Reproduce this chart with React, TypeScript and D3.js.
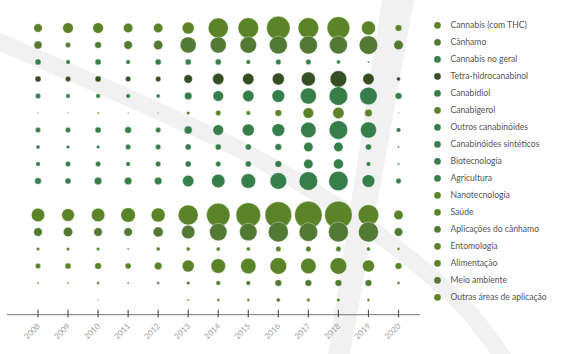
import React, { useEffect, useRef } from "react";
import * as d3 from "d3";

const years = ["2008", "2009", "2010", "2011", "2012", "2013", "2014", "2015", "2016", "2017", "2018", "2019", "2020"];

const categories = [
  "Cannabis (com THC)",
  "Cânhamo",
  "Cannabis no geral",
  "Tetra-hidrocanabinol",
  "Canabidiol",
  "Canabigerol",
  "Outros canabinóides",
  "Canabinóides sintéticos",
  "Biotecnologia",
  "Agricultura",
  "Nanotecnologia",
  "Saúde",
  "Aplicações do cânhamo",
  "Entomologia",
  "Alimentação",
  "Meio ambiente",
  "Outras áreas de aplicação",
];

// values per year, 2008 -> 2020
const cannabisThc = [18, 28, 28, 22, 22, 36, 100, 106, 137, 106, 128, 49, 11];
const canhamo = [16, 7, 11, 18, 22, 64, 64, 69, 81, 81, 81, 86, 22];
const cannabisGeral = [9, 5, 9, 5, 9, 9, 9, 5, 7, 7, 4, 1, 0];
const thc = [9, 7, 9, 7, 7, 18, 32, 32, 36, 49, 69, 32, 4];
const cbd = [7, 5, 5, 5, 4, 14, 28, 32, 40, 64, 86, 76, 11];
const cbg = [0.6, 0.6, 1, 0.6, 0.6, 3, 7, 5, 11, 28, 32, 14, 0.5];
const outrosCanab = [7, 7, 9, 11, 7, 16, 28, 36, 40, 59, 86, 64, 5];
const sinteticos = [4, 3, 3, 7, 7, 9, 9, 9, 11, 22, 22, 9, 1];
const biotecnologia = [5, 7, 7, 5, 7, 9, 7, 9, 11, 22, 25, 5, 1];
const agricultura = [11, 9, 14, 14, 14, 32, 45, 53, 69, 86, 94, 40, 7];
const nanotecnologia = [0, 0, 0, 0, 0, 0, 0, 0, 0, 0, 0, 0, 0];
const saude = [45, 40, 45, 53, 49, 100, 137, 151, 177, 188, 188, 106, 22];
const aplicacoes = [18, 22, 18, 18, 25, 45, 76, 76, 100, 86, 100, 100, 18];
const entomologia = [3, 3, 3, 1, 4, 4, 4, 4, 7, 7, 7, 4, 2];
const alimentacao = [7, 9, 11, 9, 14, 36, 53, 59, 69, 59, 69, 36, 11];
const meioAmbiente = [1, 1, 2, 1, 2, 3, 5, 5, 11, 11, 11, 11, 2];
const outrasAreas = [0, 0, 0.5, 0, 0, 1, 2, 2, 4, 3, 3, 2, 0];

const series = [
  cannabisThc, canhamo, cannabisGeral, thc, cbd, cbg, outrosCanab, sinteticos,
  biotecnologia, agricultura, nanotecnologia, saude, aplicacoes, entomologia,
  alimentacao, meioAmbiente, outrasAreas,
];

const olive = "#5a8427";
const hemp = "#537a34";
const green = "#367f4b";
const dark = "#354f23";
const colors = [
  olive, hemp, green, dark, green, olive, green, green, green, green,
  olive, olive, hemp, olive, olive, hemp, olive,
];

export default function App() {
  const svgRef = useRef<SVGSVGElement>(null);

  useEffect(() => {
    const width = 579;
    const height = 354;
    const svg = d3.select(svgRef.current).attr("width", width).attr("height", height);
    svg.selectAll("*").remove();

    // background decoration
    const deco = svg.append("g");
    deco
      .append("path")
      .attr(
        "d",
        d3.line().curve(d3.curveCatmullRom)([
          [-10, 37], [0, 42], [120, 94], [241, 150], [340, 208], [418, 265], [467, 310], [505, 360],
        ])
      )
      .attr("fill", "none")
      .attr("stroke", "#f1f1f1")
      .attr("stroke-width", 17);
    deco
      .append("polygon")
      .attr("points", "382,0 414,0 350,354 328,354")
      .attr("fill", "#f1f1f1");

    const x = d3.scalePoint().domain(years).range([38, 398.5]);
    const y = d3.scalePoint().domain(categories).range([28, 300]);
    const r = d3.scaleSqrt().domain([0, 188]).range([0, 13.7]);

    // axis
    const axisY = 314.7;
    const axis = svg.append("g");
    axis
      .append("line")
      .attr("x1", 7)
      .attr("x2", 420)
      .attr("y1", axisY)
      .attr("y2", axisY)
      .attr("stroke", "#777")
      .attr("stroke-width", 1);
    axis
      .selectAll("line.tick")
      .data(years)
      .join("line")
      .attr("class", "tick")
      .attr("x1", (d) => x(d)!)
      .attr("x2", (d) => x(d)!)
      .attr("y1", axisY - 5)
      .attr("y2", axisY + 2.5)
      .attr("stroke", "#555")
      .attr("stroke-width", 1.2);
    axis
      .selectAll("text")
      .data(years)
      .join("text")
      .attr("transform", (d) => `translate(${x(d)! + 0.5},${axisY + 10}) rotate(-45)`)
      .attr("text-anchor", "end")
      .attr("dy", "0.35em")
      .attr("font-family", "Lato, sans-serif")
      .attr("font-size", 8)
      .attr("fill", "#a0a0a0")
      .text((d) => d);

    // bubbles
    const rows = svg
      .append("g")
      .selectAll("g")
      .data(categories.map((c, i) => ({ key: c, color: colors[i], values: series[i] })))
      .join("g")
      .attr("fill", (d) => d.color);
    rows
      .selectAll("circle")
      .data((d) => d.values.map((v, j) => ({ key: d.key, year: years[j], v })))
      .join("circle")
      .filter((d) => d.v > 0)
      .attr("cx", (d) => x(d.year)!)
      .attr("cy", (d) => y(d.key)!)
      .attr("r", (d) => r(d.v))
      .attr("stroke", "#fff")
      .attr("stroke-width", 0.5)
      .attr("stroke-opacity", 0.7);

    // legend
    const legend = svg
      .append("g")
      .selectAll("g")
      .data(categories)
      .join("g")
      .attr("transform", (d) => `translate(437.5,${y(d)! - 2.6})`);
    legend
      .append("circle")
      .attr("r", 3.3)
      .attr("fill", (d, i) => colors[i]);
    legend
      .append("text")
      .attr("x", 13)
      .attr("dy", "0.35em")
      .attr("font-family", "Lato, sans-serif")
      .attr("font-size", 8.6)
      .attr("fill", "#555")
      .text((d) => d);
  }, []);

  return (
    <div>
      <svg ref={svgRef} style={{ position: "absolute", left: 0, top: 0 }}></svg>
    </div>
  );
}
